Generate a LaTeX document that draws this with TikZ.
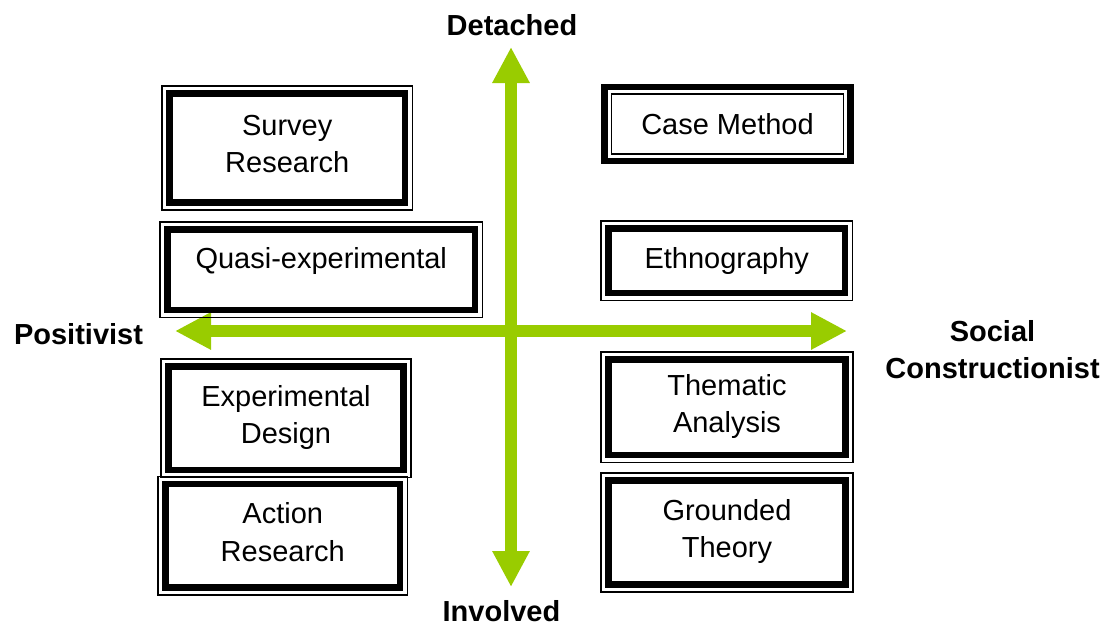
\documentclass[tikz,border=0pt]{standalone}
\usepackage{fontspec}
\setmainfont{Liberation Sans}
\usetikzlibrary{arrows.meta}
\definecolor{axisgreen}{RGB}{153,204,0}

\tikzset{
  % thick frame with a thin outline just outside it
  thinthick/.style={draw, line width=6.5pt, align=center,
    inner sep=0pt, outer sep=0pt, text depth=8pt,
    font=\fontsize{29}{37.5}\selectfont,
    append after command={\pgfextra{
      \draw[line width=1.6pt]
        ([xshift=-7.5pt,yshift=7.5pt]\tikzlastnode.north west) rectangle
        ([xshift=7.5pt,yshift=-7.5pt]\tikzlastnode.south east);}}},
  % thick frame with a thin outline just inside it
  thickthin/.style={draw, line width=6.5pt, align=center,
    inner sep=0pt, outer sep=0pt,
    font=\fontsize{29}{37.5}\selectfont,
    append after command={\pgfextra{
      \draw[line width=1.6pt]
        ([xshift=7pt,yshift=-7pt]\tikzlastnode.north west) rectangle
        ([xshift=-7pt,yshift=7pt]\tikzlastnode.south east);}}},
  axislabel/.style={align=center, inner sep=0pt,
    font=\fontsize{29}{37}\selectfont\bfseries},
  axis/.style={draw=axisgreen, line width=12pt,
    {Triangle[length=36pt,width=35pt,fill=axisgreen]}-{Triangle[length=36pt,width=35pt,fill=axisgreen]}}
}

\begin{document}
\begin{tikzpicture}[x=1pt,y=-1pt]
  \useasboundingbox (0,0) rectangle (1118,626);

  % axes
  \coordinate (top) at (511,47);
  \coordinate (bottom) at (511,587);
  \coordinate (left) at (175,331);
  \coordinate (right) at (847,331);
  \draw[axis] (bottom) -- (top);
  \draw[axis] (left) -- (right);

  % axis labels
  \node[axislabel] (detached) at (512,25) {Detached};
  \node[axislabel] (involved) at (501.5,611) {Involved};
  \node[axislabel] (positivist) at (78.5,334) {Positivist};
  \node[axislabel] (social) at (992.5,349.5) {Social\\Constructionist};

  % left-hand methods
  \node[thinthick, minimum width=235.5pt, minimum height=109pt] (survey)
    at (287.25,148) {Survey\\Research};
  \node[thinthick, minimum width=307.5pt, minimum height=80.5pt, text depth=24pt] (quasi)
    at (321.25,269.75) {Quasi-experimental};
  \node[thinthick, minimum width=235pt, minimum height=103.5pt] (experimental)
    at (286,418.25) {Experimental\\Design};
  \node[thinthick, minimum width=234.5pt, minimum height=103.5pt] (action)
    at (282.75,535.75) {Action\\Research};

  % right-hand methods
  \node[thickthin, minimum width=246pt, minimum height=74pt] (case)
    at (727.5,124) {Case Method};
  \node[thinthick, minimum width=236.5pt, minimum height=64.5pt, text depth=6pt] (ethnography)
    at (726.75,260.75) {Ethnography};
  \node[thinthick, minimum width=237pt, minimum height=95.5pt] (thematic)
    at (727,407.25) {Thematic\\Analysis};
  \node[thinthick, minimum width=237pt, minimum height=104pt] (grounded)
    at (727,532.5) {Grounded\\Theory};
\end{tikzpicture}
\end{document}
